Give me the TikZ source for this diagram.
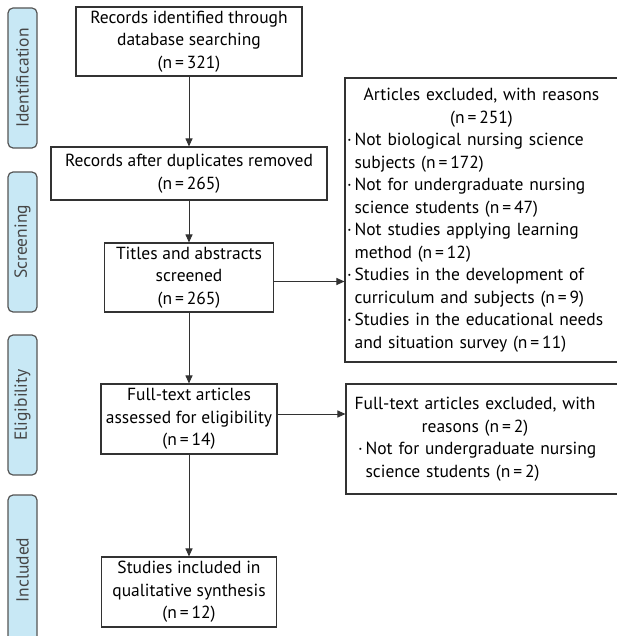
\documentclass[tikz,border=0pt]{standalone}
\usepackage{fontspec}
\setmainfont{PT Sans}
\usepackage{xcolor}
\usetikzlibrary{arrows.meta,positioning}

\definecolor{stagebg}{RGB}{200,232,245}
\definecolor{stageline}{RGB}{85,85,85}
\definecolor{stagetext}{RGB}{70,70,70}
\definecolor{boxline}{RGB}{50,50,50}

% bullet item with hanging second line
\newcommand{\exitem}[2]{\textperiodcentered\,#1\\\phantom{\textperiodcentered\,}#2}

\begin{document}
\begin{tikzpicture}[x=1pt,y=-1pt,
    font=\fontsize{17.5}{22.5}\selectfont,
    box/.style={draw=boxline, line width=1.1pt, fill=white, align=center, inner sep=2pt},
    exbox/.style={draw=boxline, line width=1.1pt, fill=white, align=left, inner xsep=2pt, inner ysep=2pt},
    stage/.style={draw=stageline, line width=1.2pt, fill=stagebg, text=stagetext, rounded corners=5pt,
      rotate=90, minimum width=140pt, minimum height=29pt, inner sep=0pt},
    arr/.style={-{Triangle[length=8pt,width=7pt]}, line width=1pt, draw=boxline}]

  \useasboundingbox (0,0) rectangle (617,636);
  \clip (0,0) rectangle (617,636);

  % Stage labels
  \node[stage] (sid) at (22.5,78) {Identification};
  \node[stage] (sscr) at (22.5,242) {Screening};
  \node[stage] (selg) at (22.5,405) {Eligibility};
  \node[stage, minimum width=150pt] (sinc) at (22.5,570) {Included};

  % Main flow
  \node[box, minimum width=226pt, minimum height=69pt] (idf) at (189,41.5)
    {Records identified through\\database searching\\(n\,=\,321)};
  \node[box, minimum width=276pt, minimum height=53pt] (dup) at (189,173.5)
    {Records after duplicates removed\\(n\,=\,265)};
  \node[box, minimum width=169pt, minimum height=69pt] (tas) at (189,277.5)
    {Titles and abstracts\\screened\\(n\,=\,265)};
  \node[box, minimum width=176pt, minimum height=70pt] (fta) at (189,419)
    {Full-text articles\\assessed for eligibility\\(n\,=\,14)};
  \node[box, minimum width=175pt, minimum height=70pt] (inc) at (189,592)
    {Studies included in\\qualitative synthesis\\(n\,=\,12)};

  % Exclusion boxes
  \node[exbox, text width=269pt, minimum height=284pt] (exr) at (481.5,220)
    {\makebox[\linewidth][c]{Articles excluded, with reasons}\\
     \makebox[\linewidth][c]{(n\,=\,251)}\\
     \exitem{Not biological nursing science}{subjects (n\,=\,172)}\\
     \exitem{Not for undergraduate nursing}{science students (n\,=\,47)}\\
     \exitem{Not studies applying learning}{method (n\,=\,12)}\\
     \exitem{Studies in the development of}{curriculum and subjects (n\,=\,9)}\\
     \exitem{Studies in the educational needs}{and situation survey (n\,=\,11)}};
  \node[exbox, text width=268pt, minimum height=110pt] (exf) at (482,439)
    {\makebox[\linewidth][c]{Full-text articles excluded, with\hspace*{14pt}}\\
     \makebox[\linewidth][c]{reasons (n\,=\,2)\hspace*{14pt}}\\
     \hspace*{10pt}\textperiodcentered\,Not for undergraduate nursing\\
     \hspace*{10pt}\phantom{\textperiodcentered\,}science students (n\,=\,2)};

  % Connectors
  \draw[arr] (idf.south) -- (dup.north);
  \draw[arr] (dup.south) -- (tas.north);
  \draw[arr] (tas.south) -- (fta.north);
  \draw[arr] (fta.south) -- (inc.north);
  \draw[arr] ([yshift=-4pt]tas.east) -- ([yshift=-4pt]tas.east -| exr.west);
  \draw[arr] ([yshift=5pt]fta.east) -- ([yshift=5pt]fta.east -| exf.west);

\end{tikzpicture}
\end{document}
